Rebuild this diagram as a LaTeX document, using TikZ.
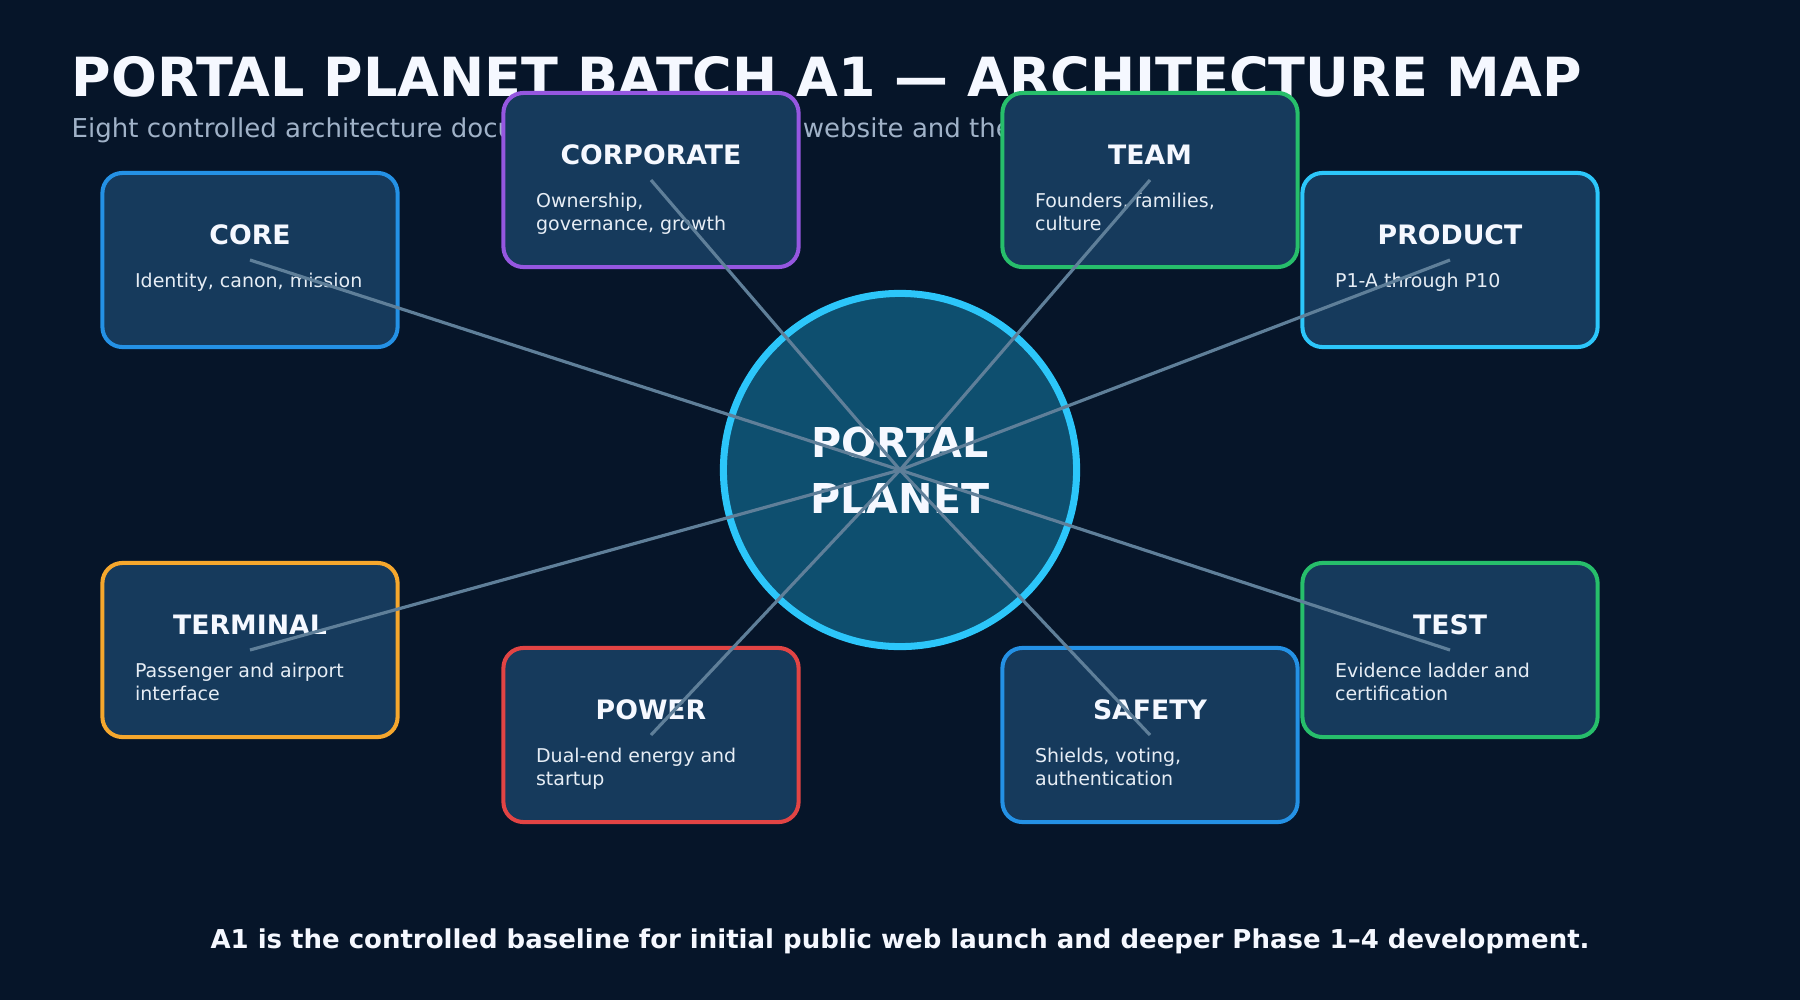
\documentclass[tikz,border=0pt]{standalone}
\usepackage{fontspec}
\setmainfont{DejaVu Sans}
\usepackage{xcolor}
\usetikzlibrary{positioning,calc}
\definecolor{bgnavy}{RGB}{6,21,41}
\definecolor{cardfill}{RGB}{22,58,92}
\definecolor{hubfill}{RGB}{14,79,111}
\definecolor{hubcyan}{RGB}{44,198,250}
\definecolor{coreblue}{RGB}{36,145,229}
\definecolor{corppurple}{RGB}{149,87,224}
\definecolor{teamgreen}{RGB}{39,190,107}
\definecolor{terminalorange}{RGB}{245,167,45}
\definecolor{powerred}{RGB}{226,68,68}
\definecolor{linkslate}{RGB}{95,127,153}
\definecolor{subgray}{RGB}{160,178,200}
\definecolor{titlewhite}{RGB}{245,248,255}
\definecolor{descwhite}{RGB}{230,237,245}

\tikzset{
  card/.style={draw=#1, fill=cardfill, line width=1.15pt, rounded corners=0.2cm,
    minimum width=2.95cm, minimum height=1.74cm, inner sep=0pt},
  cardtitle/.style={anchor=base, text=titlewhite, inner sep=0pt,
    font=\fontsize{7.6}{9}\selectfont\bfseries},
  carddesc/.style={anchor=base west, text=descwhite, inner sep=0pt,
    font=\fontsize{5.4}{6.54}\selectfont},
  hub/.style={circle, draw=hubcyan, fill=hubfill, line width=2pt,
    minimum size=3.53cm, inner sep=0pt, align=center, text=titlewhite,
    font=\fontsize{11.7}{15.9}\selectfont\bfseries},
  link/.style={draw=linkslate, line width=0.9pt},
}

\begin{document}
\begin{tikzpicture}[x=0.01cm, y=-0.01cm]
\fill[bgnavy] (0,0) rectangle (1800,1000);
\useasboundingbox (0,0) rectangle (1800,1000);

% heading
\node[anchor=base west, inner sep=0pt, text=titlewhite, font=\fontsize{15.35}{18}\selectfont\bfseries]
  (heading) at (71,96) {PORTAL PLANET BATCH A1 — ARCHITECTURE MAP};
\node[anchor=base west, inner sep=0pt, text=subgray, font=\fontsize{7.4}{9}\selectfont]
  (subheading) at (71,137) {Eight controlled architecture documents that shape the website and the engineering work.};

% document cards
\foreach \name/\head/\col/\cx/\cy/\lineA/\lineB in {
  core/CORE/coreblue/250/260/{Identity, canon, mission}/{},
  corporate/CORPORATE/corppurple/651/180/{Ownership,}/{governance, growth},
  team/TEAM/teamgreen/1150/180/{Founders, families,}/{culture},
  product/PRODUCT/hubcyan/1450/260/{P1-A through P10}/{},
  terminal/TERMINAL/terminalorange/250/650/{Passenger and airport}/{interface},
  power/POWER/powerred/651/735/{Dual-end energy and}/{startup},
  safety/SAFETY/coreblue/1150/735/{Shields, voting,}/{authentication},
  test/TEST/teamgreen/1450/650/{Evidence ladder and}/{certification}
} {
  \node[card=\col] (\name) at (\cx,\cy) {};
  \node[cardtitle] (\name-t) at ($(\name.north)+(0,74)$) {\head};
  \node[carddesc] (\name-a) at ($(\name.north west)+(34,117)$) {\lineA};
  \node[carddesc] (\name-b) at ($(\name.north west)+(34,140)$) {\lineB};
}

% hub
\node[hub] (planet) at (900,470) {PORTAL\\PLANET};

% links
\foreach \name in {core,corporate,team,product,terminal,power,safety,test}
  \draw[link] (planet.center) -- (\name.center);

\node[anchor=base, inner sep=0pt, text=titlewhite, font=\fontsize{7.39}{9}\selectfont\bfseries]
  (footer) at (900,948) {A1 is the controlled baseline for initial public web launch and deeper Phase 1–4 development.};
\end{tikzpicture}
\end{document}
